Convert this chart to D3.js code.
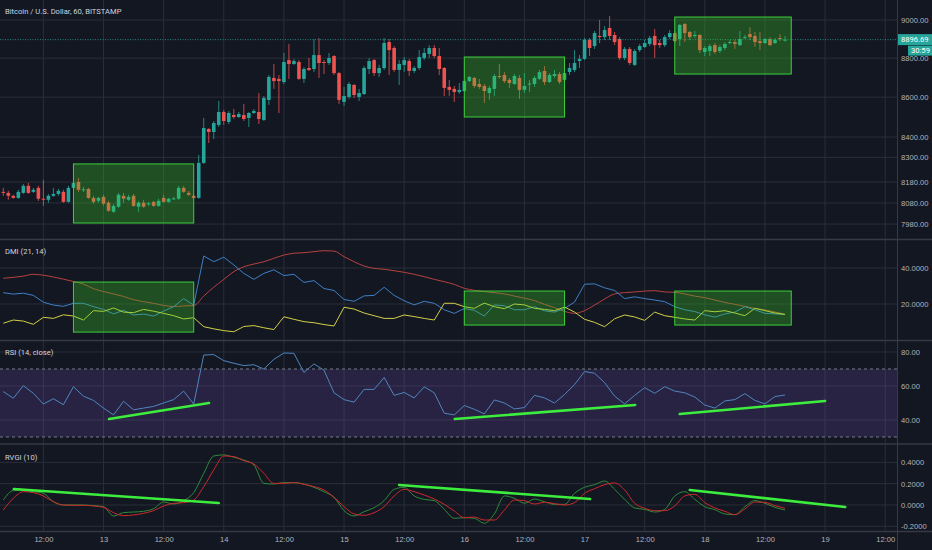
<!DOCTYPE html>
<html>
<head>
<meta charset="utf-8">
<title>Bitcoin / U.S. Dollar, 60, BITSTAMP</title>
<script src="https://cdn.jsdelivr.net/npm/d3@7"></script>
<style>
    html, body { margin: 0; padding: 0; background: #131722; }
    svg { display: block; font-family: Roboto, "Liberation Sans", sans-serif; }
    .axis text { fill: #b2b5be; font-size: 7.6px; }
    .legend { fill: #d1d4dc; font-size: 7.6px; }
</style>
</head>
<body>
<svg id="chart" width="932" height="550"></svg>
<script>

    // hourly candles, first one at 2020-01-12 04:00 UTC
    const opens = [
        8133, 8128, 8114, 8104, 8128, 8162, 8133, 8152, 8100, 8095,
        8114, 8123, 8133, 8085, 8152, 8181, 8140, 8147, 8104, 8090,
        8109, 8081, 8038, 8062, 8114, 8095, 8114, 8062, 8081, 8073,
        8085, 8066, 8104, 8085, 8097, 8100, 8152, 8128, 8114, 8104,
        8273, 8440, 8425, 8460, 8525, 8475, 8510, 8500, 8510, 8495,
        8520, 8525, 8485, 8586, 8698, 8693, 8677, 8790, 8770, 8780,
        8693, 8749, 8744, 8816, 8780, 8775, 8811, 8723, 8576, 8601,
        8662, 8601, 8616, 8744, 8790, 8723, 8749, 8884, 8853, 8739,
        8765, 8785, 8734, 8749, 8801, 8822, 8853, 8811, 8749, 8652,
        8642, 8626, 8631, 8682, 8698, 8667, 8657, 8621, 8642, 8708,
        8713, 8688, 8667, 8698, 8637, 8664, 8667, 8693, 8734, 8677,
        8708, 8718, 8688, 8728, 8739, 8785, 8796, 8895, 8863, 8916,
        8910, 8958, 8921, 8900, 8801, 8848, 8765, 8842, 8858, 8874,
        8916, 8879, 8868, 8910, 8931, 8900, 8979, 8937, 8916, 8921,
        8832, 8837, 8868, 8837, 8853, 8879, 8884, 8868, 8905, 8926,
        8916, 8889, 8879, 8900, 8879, 8905, 8893
    ];
    const highs = [
        8152, 8138, 8119, 8143, 8171, 8176, 8152, 8162, 8191, 8123,
        8152, 8147, 8143, 8162, 8186, 8200, 8157, 8152, 8114, 8109,
        8119, 8090, 8076, 8128, 8128, 8119, 8123, 8090, 8095, 8085,
        8090, 8100, 8119, 8104, 8109, 8162, 8162, 8138, 8119, 8312,
        8495, 8445, 8480, 8581, 8535, 8530, 8540, 8525, 8566, 8525,
        8540, 8621, 8606, 8713, 8770, 8713, 8827, 8874, 8796, 8790,
        8754, 8801, 8900, 8905, 8790, 8827, 8816, 8728, 8652, 8677,
        8667, 8642, 8759, 8801, 8796, 8765, 8905, 8900, 8863, 8790,
        8806, 8796, 8759, 8842, 8853, 8868, 8868, 8853, 8754, 8688,
        8657, 8672, 8688, 8708, 8703, 8693, 8667, 8657, 8718, 8770,
        8728, 8698, 8718, 8713, 8723, 8688, 8708, 8739, 8759, 8723,
        8739, 8728, 8734, 8775, 8842, 8816, 8905, 8905, 8942, 9000,
        8968, 9021, 8937, 8910, 8858, 8858, 8848, 8874, 8895, 8916,
        8952, 8895, 8921, 8947, 8942, 8979, 8984, 8942, 8942, 8926,
        8863, 8874, 8879, 8868, 8884, 8895, 8895, 8942, 8921, 8963,
        8937, 8937, 8905, 8910, 8905, 8926, 8916
    ];
    const lows = [
        8114, 8095, 8100, 8100, 8123, 8123, 8128, 8090, 8066, 8081,
        8109, 8114, 8081, 8081, 8147, 8133, 8133, 8100, 8076, 8081,
        8066, 8038, 8033, 8057, 8081, 8090, 8062, 8038, 8057, 8066,
        8062, 8062, 8081, 8081, 8095, 8095, 8128, 8114, 8100, 8100,
        8268, 8371, 8391, 8450, 8460, 8465, 8490, 8495, 8480, 8450,
        8515, 8465, 8480, 8561, 8642, 8520, 8667, 8693, 8765, 8688,
        8672, 8734, 8728, 8698, 8718, 8765, 8713, 8566, 8555, 8591,
        8596, 8581, 8611, 8718, 8708, 8703, 8739, 8713, 8728, 8662,
        8728, 8708, 8723, 8739, 8790, 8801, 8801, 8713, 8606, 8606,
        8576, 8616, 8626, 8677, 8647, 8642, 8571, 8586, 8606, 8693,
        8672, 8647, 8662, 8591, 8621, 8626, 8652, 8688, 8662, 8672,
        8698, 8667, 8682, 8713, 8728, 8749, 8790, 8811, 8848, 8879,
        8895, 8895, 8868, 8790, 8790, 8765, 8759, 8832, 8853, 8863,
        8801, 8853, 8858, 8900, 8879, 8863, 8884, 8895, 8905, 8827,
        8811, 8811, 8822, 8827, 8842, 8874, 8848, 8863, 8900, 8895,
        8858, 8842, 8874, 8863, 8874, 8889, 8886
    ];
    const closes = [
        8128, 8114, 8104, 8133, 8162, 8128, 8143, 8100, 8097, 8114,
        8123, 8138, 8085, 8152, 8176, 8143, 8145, 8104, 8085, 8104,
        8076, 8043, 8066, 8119, 8100, 8109, 8066, 8081, 8062, 8078,
        8066, 8090, 8085, 8100, 8102, 8152, 8133, 8119, 8104, 8273,
        8445, 8425, 8470, 8525, 8480, 8520, 8500, 8515, 8490, 8520,
        8530, 8490, 8596, 8703, 8682, 8682, 8780, 8770, 8785, 8693,
        8744, 8739, 8816, 8775, 8775, 8801, 8723, 8586, 8606, 8667,
        8611, 8621, 8749, 8785, 8723, 8749, 8879, 8842, 8739, 8770,
        8790, 8734, 8749, 8806, 8827, 8853, 8811, 8744, 8647, 8637,
        8626, 8637, 8682, 8703, 8657, 8652, 8631, 8647, 8708, 8703,
        8682, 8672, 8708, 8637, 8657, 8669, 8698, 8728, 8677, 8713,
        8718, 8677, 8723, 8749, 8775, 8796, 8895, 8853, 8931, 8910,
        8947, 8916, 8884, 8801, 8848, 8775, 8837, 8863, 8879, 8905,
        8868, 8868, 8910, 8931, 8889, 8974, 8931, 8910, 8921, 8842,
        8853, 8863, 8832, 8858, 8874, 8884, 8874, 8900, 8910, 8910,
        8884, 8879, 8900, 8868, 8895, 8900, 8896.69
    ];

    // indicator readings, one every 2 hours from the first candle
    const adx = [
        34.3, 34.8, 35.5, 36.5, 36, 35, 33.8, 32.5, 31.1, 28.5,
        26.9, 25.6, 24.2, 22.4, 21.3, 20.4, 19.2, 18.6, 18.9, 19.1,
        24.4, 29.3, 33.7, 38, 40.7, 42.2, 43.5, 45.4, 47.2, 48.2,
        48.5, 49.1, 49.6, 49.4, 46.3, 43.5, 41.1, 39.8, 39.3, 38.5,
        37.6, 36.5, 35.2, 33.7, 32.4, 30.9, 28.7, 27.6, 26.9, 26.3,
        25.6, 24.4, 23.2, 21.9, 19.8, 18, 15.9, 14.8, 16.3, 19.4,
        22.8, 25.6, 26.3, 26.7, 27.2, 27.4, 26.7, 26.5, 25.6, 24.4,
        23.5, 22.2, 20.9, 19.8, 18.7, 17.6, 16.7, 15.6, 14.3
    ];
    const plusDI = [
        26.3, 25.5, 26, 24.8, 21, 19.4, 18.7, 20.4, 20.4, 18.5,
        17, 14.5, 16.5, 13.9, 14.4, 13.3, 16.1, 18.5, 23, 19.4,
        46.7, 43.5, 46, 41.7, 37, 33.7, 37, 39, 35.8, 36.5,
        32, 33, 28.6, 27.5, 22.5, 21.5, 24.5, 24.8, 29.3, 24.8,
        21.8, 19.5, 21.5, 20.4, 16.8, 14.8, 17.5, 16.5, 13.3, 19.5,
        19, 16.8, 16.8, 18.5, 16.2, 15.5, 17.5, 21.1, 31, 31.2,
        29, 27.5, 23, 24, 23, 22.2, 21.3, 18.5, 16.8, 15.8,
        14, 12.7, 14.5, 15.5, 18.5, 16.8, 14.8, 14.5, 14.2
    ];
    const minusDI = [
        9.3, 11.1, 10.5, 8.7, 12.6, 12, 14, 13.3, 11.1, 16.3,
        15.9, 17.8, 15.5, 15.2, 17, 16, 14.8, 13.5, 11.7, 12.4,
        7.4, 6.2, 5.2, 4.6, 7.5, 8.0, 6.8, 5.8, 12.9, 11.5,
        10.2, 9.6, 8.6, 7.8, 18.2, 17.2, 15, 13.5, 12, 12,
        13.9, 13, 12, 11.1, 20.4, 20.4, 18.5, 17.6, 20.5, 18.5,
        17.4, 20, 19.5, 17.6, 17, 16.3, 18.3, 15.5, 11.5, 9.8,
        7.4, 11.8, 13.9, 12.8, 10.9, 15.5, 13.5, 12.6, 11.7, 11.1,
        16.3, 15.7, 16.3, 15, 13.5, 17.6, 16.3, 15, 14.2
    ];
    const rsi = [
        56.7, 52.8, 60.2, 55.7, 49.4, 52.5, 49, 59.6, 54, 51.5,
        47, 43, 51, 46, 47, 48, 50, 52, 57, 49.4,
        78.2, 78.5, 74.9, 73.4, 72, 72.5, 70, 75.7, 79.4, 79.2,
        68, 73, 69.3, 56, 52, 50.5, 58, 58, 65, 54.5,
        56.2, 53, 59.5, 56, 44, 43, 48.5, 46.3, 43.6, 51.8,
        50, 46.5, 47.3, 54.5, 53, 50, 55, 60.8, 68.5, 67.5,
        62, 54, 49.5, 54.5, 59, 55.7, 59.6, 57, 56, 53.5,
        48.8, 47, 51.2, 52, 55.5, 51.5, 49.5, 53.8, 54.7
    ];
    const rvgi = [
        0.047, 0.135, 0.138, 0.125, 0.110, 0.031, 0.0, 0.0, 0.0, -0.006,
        -0.016, -0.103, -0.072, -0.066, -0.059, -0.034, 0.028, 0.009, 0.041, 0.116,
        0.297, 0.460, 0.470, 0.448, 0.422, 0.376, 0.203, 0.197, 0.210, 0.210,
        0.197, 0.166, 0.125, 0.072, -0.053, -0.103, -0.063, -0.025, 0.041, 0.147,
        0.166, 0.085, 0.053, 0.041, -0.041, -0.125, -0.119, -0.125, -0.172, -0.084,
        0.085, 0.063, 0.016, 0.056, 0.031, 0.006, 0.006, 0.110, 0.166, 0.191,
        0.225, 0.147, 0.053, -0.028, -0.041, -0.066, -0.041, 0.085, 0.125, 0.053,
        -0.016, -0.044, -0.084, -0.091, -0.016, 0.041, 0.016, -0.022, -0.047
    ];
    const rvgiSignal = [
        -0.047, 0.063, 0.125, 0.116, 0.085, 0.031, 0.0, -0.003, -0.003, -0.009,
        -0.022, -0.072, -0.100, -0.094, -0.078, -0.053, -0.009, 0.016, 0.022, 0.047,
        0.172, 0.329, 0.460, 0.454, 0.416, 0.385, 0.297, 0.203, 0.203, 0.210,
        0.194, 0.172, 0.141, 0.072, -0.016, -0.084, -0.097, -0.072, -0.016, 0.085,
        0.147, 0.125, 0.094, 0.056, 0.006, -0.056, -0.119, -0.113, -0.141, -0.141,
        -0.047, 0.047, 0.041, 0.009, 0.025, 0.013, 0.0, 0.022, 0.110, 0.153,
        0.191, 0.207, 0.141, 0.016, -0.031, -0.053, -0.053, -0.009, 0.085, 0.100,
        0.022, -0.028, -0.059, -0.091, -0.037, 0.028, 0.025, -0.006, -0.031
    ];

    const lastPrice = 8896.69;
    const countdown = "30:59";

    // axis tick values
    const priceTicks = [7980, 8080, 8180, 8300, 8400, 8600, 8800, 9000];
    const dmiTicks = [20, 40];
    const rsiTicks = [40, 60, 80];
    const rsiBand = [30, 70];
    const rvgiTicks = [-0.2, 0, 0.2, 0.4];

    // drawn rectangles: time span and value span
    const priceBoxes = [
        {from: "2020-01-12T18:00Z", to: "2020-01-13T18:00Z", hi: 8268, lo: 7985},
        {from: "2020-01-16T00:00Z", to: "2020-01-16T20:00Z", hi: 8806, lo: 8500},
        {from: "2020-01-17T18:00Z", to: "2020-01-18T17:15Z", hi: 9016, lo: 8718}
    ];
    const dmiBoxes = [
        {from: "2020-01-12T18:00Z", to: "2020-01-13T18:00Z", hi: 32.2, lo: 4.4},
        {from: "2020-01-16T00:00Z", to: "2020-01-16T20:00Z", hi: 27.2, lo: 8.3},
        {from: "2020-01-17T18:00Z", to: "2020-01-18T17:15Z", hi: 27.2, lo: 8.3}
    ];
    // drawn trend lines
    const rsiTrends = [
        {from: "2020-01-13T01:06Z", to: "2020-01-13T21:03Z", v0: 40.6, v1: 50.0},
        {from: "2020-01-15T22:06Z", to: "2020-01-17T10:06Z", v0: 40.6, v1: 48.8},
        {from: "2020-01-17T19:00Z", to: "2020-01-19T00:00Z", v0: 43.5, v1: 51.2}
    ];
    const rvgiTrends = [
        {from: "2020-01-12T06:06Z", to: "2020-01-13T23:00Z", v0: 0.150, v1: 0.019},
        {from: "2020-01-15T11:00Z", to: "2020-01-17T01:06Z", v0: 0.188, v1: 0.056},
        {from: "2020-01-17T21:00Z", to: "2020-01-19T04:00Z", v0: 0.141, v1: -0.019}
    ];

    const HOUR = 3600e3;
    const t0 = Date.UTC(2020, 0, 12, 4);
    const plotRight = 897;
    const svg = d3.select("#chart");

    const candles = opens.map((o, i) => ({
        t: new Date(t0 + i * HOUR), o: o, h: highs[i], l: lows[i], c: closes[i]
    }));
    const indT = i => new Date(t0 + i * 2 * HOUR);

    const x = d3.scaleUtc()
        .domain([candles[0].t, candles[candles.length - 1].t])
        .range([3.3, 785]);

    const yPrice = d3.scaleLog().domain([7910, 9107]).range([239, 0]);
    const yDmi = d3.scaleLinear().domain([0, 55.56]).range([340, 240]);
    const yRsi = d3.scaleLinear().domain([26.47, 86.47]).range([443, 341]);
    const yRvgi = d3.scaleLinear().domain([-0.244, 0.563]).range([531, 445]);

    const panes = [
        {id: "price", top: 0, bottom: 239},
        {id: "dmi", top: 240, bottom: 340},
        {id: "rsi", top: 341, bottom: 443},
        {id: "rvgi", top: 445, bottom: 531}
    ];

    const defs = svg.append("defs");
    panes.forEach(p => {
        defs.append("clipPath").attr("id", "clip-" + p.id)
            .append("rect").attr("x", 0).attr("y", p.top)
            .attr("width", plotRight).attr("height", p.bottom - p.top);
    });

    // vertical grid
    const timeTicks = d3.utcHour.every(12).range(
        new Date(Date.UTC(2020, 0, 12, 12)), new Date(Date.UTC(2020, 0, 19, 13)));
    svg.append("g").selectAll("line").data(timeTicks).enter().append("line")
        .attr("x1", d => x(d)).attr("x2", d => x(d))
        .attr("y1", 0).attr("y2", 531)
        .attr("stroke", "#2a2e39").attr("stroke-width", 1);

    // horizontal grid
    function hGrid(scale, ticks) {
        svg.append("g").selectAll("line").data(ticks).enter().append("line")
            .attr("x1", 0).attr("x2", plotRight)
            .attr("y1", d => scale(d)).attr("y2", d => scale(d))
            .attr("stroke", "#2a2e39").attr("stroke-width", 1);
    }
    hGrid(yPrice, priceTicks);
    hGrid(yDmi, dmiTicks);
    hGrid(yRsi, rsiTicks);
    hGrid(yRvgi, rvgiTicks);

    // RSI band
    svg.append("rect")
        .attr("x", 0).attr("width", plotRight)
        .attr("y", yRsi(rsiBand[1])).attr("height", yRsi(rsiBand[0]) - yRsi(rsiBand[1]))
        .attr("fill", "rgba(126, 87, 194, 0.2)");
    svg.append("g").selectAll("line").data(rsiBand).enter().append("line")
        .attr("x1", 0).attr("x2", plotRight)
        .attr("y1", d => yRsi(d)).attr("y2", d => yRsi(d))
        .attr("stroke", "#787b86").attr("stroke-width", 1)
        .attr("stroke-dasharray", "3,3");

    // candles
    const gPrice = svg.append("g").attr("clip-path", "url(#clip-price)");
    const up = "#26a69a", down = "#ef5350";
    gPrice.selectAll(".wick").data(candles).enter().append("line")
        .attr("x1", d => x(d.t)).attr("x2", d => x(d.t))
        .attr("y1", d => yPrice(d.h)).attr("y2", d => yPrice(d.l))
        .attr("stroke", d => d.c >= d.o ? up : down).attr("stroke-width", 0.8);
    gPrice.selectAll(".body").data(candles).enter().append("rect")
        .attr("x", d => x(d.t) - 1.8).attr("width", 3.6)
        .attr("y", d => yPrice(Math.max(d.o, d.c)))
        .attr("height", d => Math.max(1, Math.abs(yPrice(d.o) - yPrice(d.c))))
        .attr("fill", d => d.c >= d.o ? up : down);

    // last price line
    gPrice.append("line")
        .attr("x1", 0).attr("x2", plotRight)
        .attr("y1", yPrice(lastPrice)).attr("y2", yPrice(lastPrice))
        .attr("stroke", up).attr("stroke-width", 0.8).attr("stroke-dasharray", "1,1.5");

    // indicator lines
    function drawLine(g, values, scale, color, width, curve) {
        const line = d3.line()
            .x((d, i) => x(indT(i)))
            .y(d => scale(d))
            .curve(curve || d3.curveLinear);
        g.append("path").datum(values)
            .attr("d", line)
            .attr("fill", "none")
            .attr("stroke", color)
            .attr("stroke-width", width)
            .attr("stroke-linejoin", "round");
    }
    const gDmi = svg.append("g").attr("clip-path", "url(#clip-dmi)");
    drawLine(gDmi, adx, yDmi, "#b8413f", 1, d3.curveMonotoneX);
    drawLine(gDmi, plusDI, yDmi, "#3e80c6", 1);
    drawLine(gDmi, minusDI, yDmi, "#d2d045", 1);

    const gRsi = svg.append("g").attr("clip-path", "url(#clip-rsi)");
    drawLine(gRsi, rsi, yRsi, "#4f86c0", 1);

    const gRvgi = svg.append("g").attr("clip-path", "url(#clip-rvgi)");
    drawLine(gRvgi, rvgi, yRvgi, "#2e8b3a", 1, d3.curveMonotoneX);
    drawLine(gRvgi, rvgiSignal, yRvgi, "#d0282c", 1, d3.curveMonotoneX);

    // drawn boxes
    function drawBoxes(g, boxes, scale) {
        g.selectAll(".box").data(boxes).enter().append("rect")
            .attr("x", d => x(new Date(d.from)))
            .attr("width", d => x(new Date(d.to)) - x(new Date(d.from)))
            .attr("y", d => scale(d.hi))
            .attr("height", d => scale(d.lo) - scale(d.hi))
            .attr("fill", "rgba(58, 208, 36, 0.3)")
            .attr("stroke", "#3ccf3c").attr("stroke-width", 1);
    }
    drawBoxes(gPrice, priceBoxes, yPrice);
    drawBoxes(gDmi, dmiBoxes, yDmi);

    // drawn trend lines
    function drawTrends(g, trends, scale) {
        g.selectAll(".trend").data(trends).enter().append("line")
            .attr("x1", d => x(new Date(d.from))).attr("y1", d => scale(d.v0))
            .attr("x2", d => x(new Date(d.to))).attr("y2", d => scale(d.v1))
            .attr("stroke", "#3ded3d").attr("stroke-width", 2.6)
            .attr("stroke-linecap", "round");
    }
    drawTrends(gRsi, rsiTrends, yRsi);
    drawTrends(gRvgi, rvgiTrends, yRvgi);

    // pane separators and right border
    svg.append("g").selectAll("line").data([239.5, 340.5, 444, 531.5]).enter().append("line")
        .attr("x1", 0).attr("x2", 932).attr("y1", d => d).attr("y2", d => d)
        .attr("stroke", "#363a45").attr("stroke-width", 1.5);
    svg.append("line")
        .attr("x1", plotRight + 0.5).attr("x2", plotRight + 0.5).attr("y1", 0).attr("y2", 550)
        .attr("stroke", "#363a45").attr("stroke-width", 1);

    // right axes
    const minus = s => s.replace("\u2212", "-");
    function rightAxis(scale, ticks, fmt) {
        const g = svg.append("g").attr("class", "axis")
            .attr("transform", `translate(${plotRight},0)`)
            .call(d3.axisRight(scale).tickValues(ticks)
                .tickFormat(d => minus(d3.format(fmt)(d)))
                .tickSize(0).tickPadding(4));
        g.select(".domain").remove();
    }
    rightAxis(yPrice, priceTicks, ".2f");
    rightAxis(yDmi, dmiTicks, ".4f");
    rightAxis(yRsi, rsiTicks, ".2f");
    rightAxis(yRvgi, rvgiTicks, ".4f");

    // time axis
    const gx = svg.append("g").attr("class", "axis")
        .attr("transform", "translate(0,531)")
        .call(d3.axisBottom(x).tickValues(timeTicks)
            .tickFormat(d => d.getUTCHours() === 12 ? "12:00" : String(d.getUTCDate()))
            .tickSize(0).tickPadding(6));
    gx.select(".domain").remove();

    // last price and countdown tags
    const yl = yPrice(lastPrice);
    svg.append("rect").attr("x", plotRight + 1).attr("y", yl - 5.5)
        .attr("width", 932 - plotRight - 1).attr("height", 11).attr("fill", up);
    svg.append("text").attr("x", plotRight + 4).attr("y", yl + 2.7)
        .attr("fill", "#ffffff").attr("font-size", "7.6px").text(lastPrice.toFixed(2));
    svg.append("rect").attr("x", 908).attr("y", yl + 6)
        .attr("width", 24).attr("height", 10).attr("fill", up);
    svg.append("text").attr("x", 911).attr("y", yl + 13.7)
        .attr("fill", "#ffffff").attr("font-size", "7.6px").text(countdown);

    // pane legends
    const legends = [
        {text: "Bitcoin / U.S. Dollar, 60, BITSTAMP", y: 13.8},
        {text: "DMI (21, 14)", y: 253.8},
        {text: "RSI (14, close)", y: 354.8},
        {text: "RVGI (10)", y: 459.8}
    ];
    svg.append("g").selectAll("text").data(legends).enter().append("text")
        .attr("class", "legend").attr("x", 5).attr("y", d => d.y).text(d => d.text);

</script>
</body>
</html>
